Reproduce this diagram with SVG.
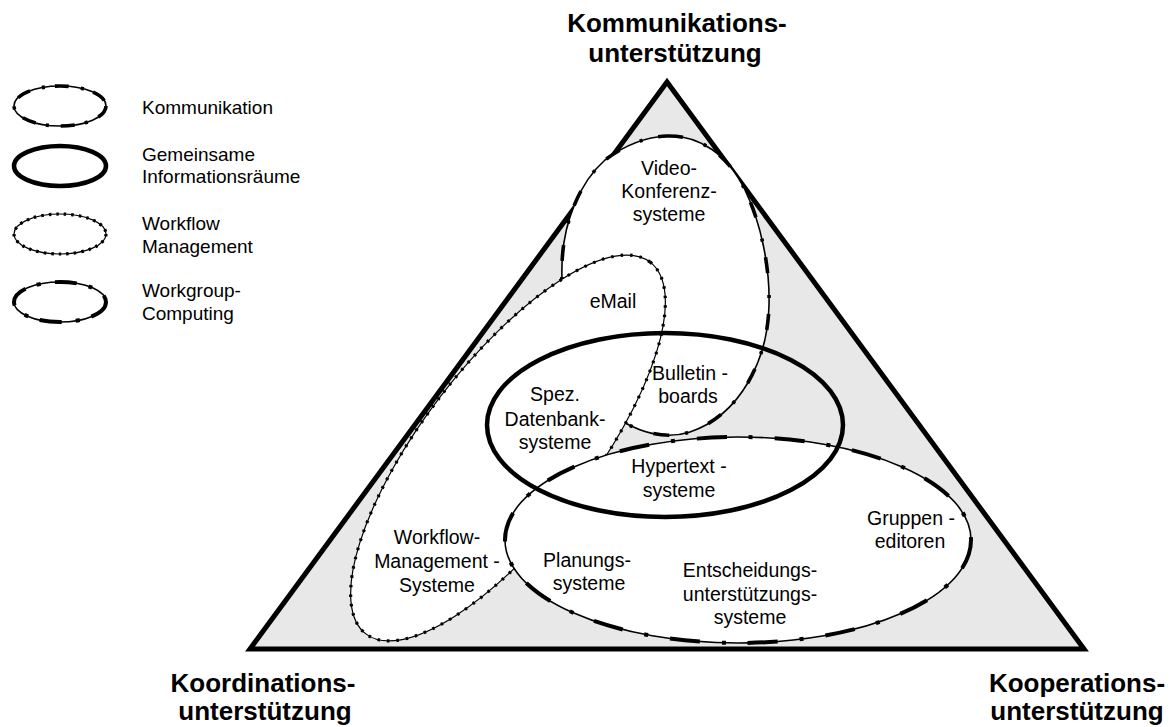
<svg xmlns="http://www.w3.org/2000/svg" width="1176" height="727" viewBox="0 0 1176 727">
<style>
text{font-family:"Liberation Sans",Arial,sans-serif;fill:#000}
.lbl{font-size:19.5px;text-anchor:middle}
.leg{font-size:19px}
.corner{font-size:26px;font-weight:bold;text-anchor:middle}
.white{fill:#fff;stroke:none}
.thin{fill:none;stroke:#000;stroke-width:1.6}
.komm{fill:none;stroke:#000;stroke-width:3.6;stroke-dasharray:16 22 3 16}
.wf{fill:none;stroke:#000;stroke-width:1.2}
.wfdot{fill:none;stroke:#000;stroke-width:3.2;stroke-dasharray:2.5 7}
.wg{fill:none;stroke:#000;stroke-width:4;stroke-dasharray:30 22 4 22}
.gem{fill:none;stroke:#000;stroke-width:4.5}
</style>
<rect width="1176" height="727" fill="#fff"/>

<g id="triangle">
<polygon points="667,82 250,649 1084,649" fill="#e8e8e8" stroke="#000" stroke-width="5" stroke-linejoin="miter"/>
</g>

<g id="kommunikation-shape">
<path class="white" d="M667,136 C700,135 728,155 745,190 C762,225 770,270 769,305 C768,360 740,415 690,432 C665,440 640,432 620,420 C585,398 560,335 562,265 C563,222 580,182 605,160 C625,145 645,137 667,136 Z"/>
<path class="thin" d="M667,136 C700,135 728,155 745,190 C762,225 770,270 769,305 C768,360 740,415 690,432 C665,440 640,432 620,420 C585,398 560,335 562,265 C563,222 580,182 605,160 C625,145 645,137 667,136 Z"/>
<path class="komm" d="M667,136 C700,135 728,155 745,190 C762,225 770,270 769,305 C768,360 740,415 690,432 C665,440 640,432 620,420 C585,398 560,335 562,265 C563,222 580,182 605,160 C625,145 645,137 667,136 Z"/>
</g>

<g id="workflow-shape" transform="translate(508,448) rotate(-52.6)">
<ellipse class="white" cx="0" cy="0" rx="234" ry="85"/>
<ellipse class="wf" cx="0" cy="0" rx="234" ry="85"/>
<ellipse class="wfdot" cx="0" cy="0" rx="234" ry="85"/>
</g>

<g id="workgroup-shape">
<ellipse class="white" cx="738" cy="540" rx="233" ry="103"/>
<ellipse class="thin" cx="738" cy="540" rx="233" ry="103"/>
<ellipse class="wg" cx="738" cy="540" rx="233" ry="103"/>
</g>

<g id="gemeinsame-shape">
<ellipse class="gem" cx="665" cy="425" rx="178" ry="92"/>
</g>

<g id="connectors"></g>

<g id="label-video"><text class="lbl" x="669" y="175">Video-</text><text class="lbl" x="669" y="198">Konferenz-</text><text class="lbl" x="669" y="221">systeme</text></g>
<g id="label-email"><text class="lbl" x="613" y="308">eMail</text></g>
<g id="label-bulletin"><text class="lbl" x="690" y="380">Bulletin -</text><text class="lbl" x="688" y="403">boards</text></g>
<g id="label-spez"><text class="lbl" x="555" y="401">Spez.</text><text class="lbl" x="555" y="426">Datenbank-</text><text class="lbl" x="555" y="449">systeme</text></g>
<g id="label-hypertext"><text class="lbl" x="679" y="473">Hypertext -</text><text class="lbl" x="679" y="497">systeme</text></g>
<g id="label-gruppen"><text class="lbl" x="911" y="525">Gruppen -</text><text class="lbl" x="910" y="548">editoren</text></g>
<g id="label-workflow"><text class="lbl" x="437" y="544">Workflow-</text><text class="lbl" x="437" y="568">Management -</text><text class="lbl" x="437" y="592">Systeme</text></g>
<g id="label-planung"><text class="lbl" x="587" y="567">Planungs-</text><text class="lbl" x="589" y="590">systeme</text></g>
<g id="label-entscheidung"><text class="lbl" x="750" y="577">Entscheidungs-</text><text class="lbl" x="750" y="601">unterstützungs-</text><text class="lbl" x="750" y="624">systeme</text></g>

<g id="corner-top"><text class="corner" x="677" y="32">Kommunikations-</text><text class="corner" x="675" y="62">unterstützung</text></g>
<g id="corner-left"><text class="corner" x="263" y="692">Koordinations-</text><text class="corner" x="265" y="720">unterstützung</text></g>
<g id="corner-right"><text class="corner" x="1077" y="692">Kooperations-</text><text class="corner" x="1077" y="720">unterstützung</text></g>

<g id="legend-kommunikation">
<ellipse class="thin" cx="60" cy="106" rx="46" ry="20"/>
<ellipse class="komm" cx="60" cy="106" rx="46" ry="20" style="stroke-dasharray:14 12 3 10"/>
<text class="leg" x="142" y="114">Kommunikation</text>
</g>
<g id="legend-gemeinsame">
<ellipse class="gem" cx="60" cy="166" rx="46" ry="20"/>
<text class="leg" x="142" y="161">Gemeinsame</text>
<text class="leg" x="142" y="183">Informationsräume</text>
</g>
<g id="legend-workflow">
<ellipse class="wf" cx="60" cy="234" rx="46" ry="20"/>
<ellipse class="wfdot" cx="60" cy="234" rx="46" ry="20" style="stroke-dasharray:2.5 5"/>
<text class="leg" x="142" y="230">Workflow</text>
<text class="leg" x="142" y="253">Management</text>
</g>
<g id="legend-workgroup">
<ellipse class="thin" cx="60" cy="302" rx="46" ry="20"/>
<ellipse class="wg" cx="60" cy="302" rx="46" ry="20" style="stroke-dasharray:22 12 4 14"/>
<text class="leg" x="142" y="297">Workgroup-</text>
<text class="leg" x="142" y="320">Computing</text>
</g>
</svg>
